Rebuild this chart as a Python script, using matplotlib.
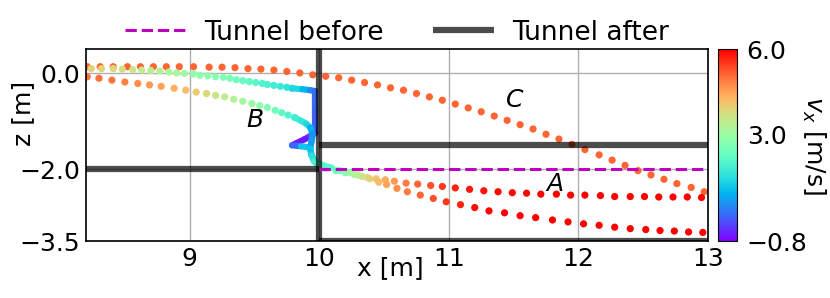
import matplotlib
matplotlib.use('Agg')
import matplotlib.pyplot as plt
import numpy as np
from matplotlib.collections import LineCollection
from matplotlib.colors import Normalize

# Trajectory C (fast, passes over the new tunnel roof)
c_x = [8.21, 8.31, 8.41, 8.52, 8.62, 8.72, 8.82, 8.92, 9.03, 9.15, 9.25, 9.35, 9.45, 9.55,
       9.65, 9.75, 9.85, 9.95, 10.05, 10.15, 10.25, 10.35, 10.45, 10.55, 10.65, 10.75, 10.85,
       10.95, 11.05, 11.15, 11.25, 11.35, 11.45, 11.55, 11.65, 11.75, 11.85, 11.95, 12.05,
       12.16, 12.26, 12.36, 12.46, 12.56, 12.66, 12.76, 12.87, 12.97]
c_z = [0.14, 0.14, 0.14, 0.14, 0.14, 0.14, 0.14, 0.14, 0.14, 0.13, 0.13, 0.12, 0.10, 0.09,
       0.07, 0.04, 0.01, -0.03, -0.06, -0.09, -0.14, -0.19, -0.24, -0.30, -0.35, -0.42, -0.49,
       -0.56, -0.64, -0.72, -0.80, -0.89, -0.98, -1.07, -1.16, -1.27, -1.37, -1.48, -1.59,
       -1.70, -1.81, -1.92, -2.03, -2.12, -2.21, -2.30, -2.38, -2.47]
c_v = [5.1] * len(c_x)

# Trajectory B (upper start, slides down the old wall and curls back)
b_x = [8.24, 8.32, 8.41, 8.48, 8.56, 8.63, 8.70, 8.77, 8.84, 8.90, 8.96, 9.03, 9.08, 9.14,
       9.20, 9.26, 9.31, 9.36, 9.41, 9.46, 9.51, 9.56, 9.60, 9.65, 9.70, 9.75, 9.79]
b_z = [0.10, 0.10, 0.10, 0.09, 0.08, 0.07, 0.06, 0.05, 0.03, 0.01, 0.00, -0.01, -0.04, -0.05,
       -0.07, -0.08, -0.10, -0.13, -0.15, -0.17, -0.19, -0.21, -0.23, -0.25, -0.27, -0.29, -0.31]
b_v = [3.9, 3.85, 3.8, 3.7, 3.6, 3.5, 3.4, 3.3, 3.2, 3.1, 3.0, 2.9, 2.8, 2.75,
       2.7, 2.6, 2.5, 2.4, 2.3, 2.2, 2.1, 2.0, 1.9, 1.8, 1.7, 1.6, 1.5]
# slow part of B (points so dense they form a line)
b_slow_x = [9.79, 9.87, 9.93, 9.97, 9.97, 9.97, 9.89, 9.79, 9.86, 9.93, 9.94, 9.97, 10.03, 10.10]
b_slow_z = [-0.31, -0.33, -0.35, -0.37, -0.80, -1.24, -1.37, -1.50, -1.52, -1.55, -1.70, -1.84, -1.92, -1.97]
b_slow_v = [1.5, 1.2, 0.6, 0.2, 0.1, 0.0, -0.5, -0.7, 1.0, 1.2, 1.5, 1.8, 2.0, 2.2]
# B after the wall
b2_x = [10.16, 10.23, 10.30, 10.37, 10.44, 10.51, 10.58, 10.67, 10.76, 10.86, 10.95, 11.05,
        11.16, 11.27, 11.38, 11.49, 11.60, 11.71, 11.83, 11.94, 12.05, 12.17, 12.28, 12.40,
        12.51, 12.62, 12.73, 12.84, 12.95]
b2_z = [-2.03, -2.07, -2.12, -2.17, -2.20, -2.22, -2.25, -2.29, -2.31, -2.34, -2.36, -2.39,
        -2.42, -2.45, -2.47, -2.49, -2.50, -2.52, -2.52, -2.54, -2.54, -2.55, -2.57, -2.57,
        -2.57, -2.58, -2.58, -2.58, -2.59]
b2_v = [2.5, 2.9, 3.4, 3.8, 4.1, 4.4, 4.6, 4.9, 5.1, 5.3, 5.5, 5.7,
        5.8, 5.85, 5.9, 5.9, 5.95, 5.95, 6.0, 6.0, 6.0, 6.0, 6.0, 6.0,
        6.0, 6.0, 6.0, 6.0, 6.0]

# Trajectory A (lower start)
a_x = [8.21, 8.30, 8.40, 8.50, 8.60, 8.69, 8.78, 8.88, 8.97, 9.05, 9.13, 9.20, 9.27, 9.34,
       9.41, 9.48, 9.54, 9.60, 9.66, 9.71, 9.76, 9.81]
a_z = [-0.07, -0.10, -0.14, -0.18, -0.21, -0.24, -0.27, -0.31, -0.35, -0.39, -0.42, -0.46,
       -0.49, -0.54, -0.58, -0.63, -0.67, -0.71, -0.77, -0.82, -0.87, -0.92]
a_v = [5.0, 5.0, 4.95, 4.85, 4.75, 4.6, 4.5, 4.35, 4.2, 4.0, 3.8, 3.6, 3.45, 3.3,
       3.1, 2.95, 2.8, 2.6, 2.4, 2.2, 2.0, 1.85]
a_slow_x = [9.81, 9.86, 9.90, 9.93, 9.95, 9.94, 9.93, 9.94, 9.96, 10.00, 10.05]
a_slow_z = [-0.92, -0.99, -1.05, -1.13, -1.26, -1.43, -1.57, -1.71, -1.84, -1.92, -1.99]
a_slow_v = [1.85, 1.7, 1.5, 1.2, 0.6, 0.5, 0.9, 1.3, 1.7, 2.0, 2.2]
a2_x = [10.13, 10.20, 10.27, 10.33, 10.39, 10.46, 10.52, 10.60, 10.68, 10.78, 10.88, 10.98,
        11.09, 11.20, 11.31, 11.43, 11.55, 11.67, 11.80, 11.92, 12.04, 12.16, 12.28, 12.40,
        12.52, 12.63, 12.74, 12.85, 12.96]
a2_z = [-2.03, -2.07, -2.11, -2.15, -2.20, -2.27, -2.32, -2.40, -2.47, -2.54, -2.61, -2.68,
        -2.74, -2.80, -2.87, -2.91, -2.97, -3.01, -3.06, -3.10, -3.14, -3.17, -3.21, -3.24,
        -3.26, -3.28, -3.29, -3.31, -3.32]
a2_v = [2.4, 2.8, 3.2, 3.6, 3.9, 4.2, 4.5, 4.7, 4.9, 5.1, 5.3, 5.5,
        5.7, 5.9, 6.0, 6.0, 6.0, 6.0, 6.0, 6.0, 6.0, 6.0, 6.0, 6.0,
        6.0, 6.0, 6.0, 6.0, 6.0]

# Tunnel geometry
before_x = [10.0, 13.0]
before_z = [-2.0, -2.0]
after_lines = [([8.2, 10.0], [-2.0, -2.0]),
               ([10.0, 10.0], [0.5, -3.5]),
               ([10.0, 13.0], [-1.5, -1.5]),
               ([10.0, 13.0], [-3.5, -3.5])]

labels = [('A', 11.82, -2.30), ('B', 9.50, -0.98), ('C', 11.51, -0.56)]

FS = 18
norm = Normalize(vmin=-0.8, vmax=6.0)
cmap = plt.get_cmap('rainbow')


def slow_path(ax, x, z, v):
    # dense, slow part of a trajectory: draw it as a coloured thick line
    pts = np.column_stack([x, z])
    segs = np.stack([pts[:-1], pts[1:]], axis=1)
    vals = (np.array(v[:-1]) + np.array(v[1:])) / 2
    lc = LineCollection(segs, colors=cmap(norm(vals)), linewidths=4.5,
                        capstyle='round', joinstyle='round', zorder=2)
    ax.add_collection(lc)


fig = plt.figure(figsize=(8.3, 2.98), dpi=100)
ax = fig.add_axes([0.1036, 0.191, 0.7494, 0.643])
cax = fig.add_axes([0.865, 0.191, 0.0229, 0.643])

for xs, zs, vs in [(c_x, c_z, c_v), (b_x, b_z, b_v), (b2_x, b2_z, b2_v),
                   (a_x, a_z, a_v), (a2_x, a2_z, a2_v)]:
    sc = ax.scatter(xs, zs, c=vs, cmap=cmap, norm=norm, s=27, edgecolors='none', zorder=2)
slow_path(ax, b_slow_x, b_slow_z, b_slow_v)
slow_path(ax, a_slow_x, a_slow_z, a_slow_v)

ax.plot(before_x, before_z, '--', color='m', lw=2.2, zorder=5, label='Tunnel before')
for i, (lx, lz) in enumerate(after_lines):
    ax.plot(lx, lz, color='k', alpha=0.7, lw=4.5, solid_capstyle='butt', zorder=4,
            label='Tunnel after' if i == 0 else None)

for txt, tx, tz in labels:
    ax.text(tx, tz, txt, fontsize=FS, style='italic', ha='center', va='center', zorder=6)

ax.set_xlim(8.2, 13.0)
ax.set_ylim(-3.5, 0.5)
ax.set_xticks([9, 10, 11, 12, 13])
ax.set_yticks([0.0, -2.0, -3.5])
ax.set_yticklabels(['0.0', '\u22122.0', '\u22123.5'])
ax.tick_params(labelsize=FS, length=0, pad=4)
ax.grid(True, color='#b0b0b0', lw=1.0, zorder=0)
ax.set_axisbelow(True)
for s in ax.spines.values():
    s.set_linewidth(1.2)

ax.set_xlabel('x [m]', fontsize=FS)
ax.xaxis.set_label_coords(0.49, -0.08)
ax.set_ylabel('z [m]', fontsize=FS)
ax.yaxis.set_label_coords(-0.082, 0.668)

ax.legend(loc='lower center', bbox_to_anchor=(0.5, 0.965), ncol=2, frameon=False,
          fontsize=19, borderaxespad=0.0, handlelength=2.3, columnspacing=1.9,
          handletextpad=0.7)

cb = fig.colorbar(sc, cax=cax)
cb.set_ticks([-0.8, 3.0, 6.0])
cb.set_ticklabels(['\u22120.8', '3.0', '6.0'])
cb.ax.tick_params(labelsize=FS, length=0, pad=7)
cb.set_label('$v_x$ [m/s]', fontsize=FS, rotation=270, labelpad=14)

fig.savefig('out.png', dpi=100)
